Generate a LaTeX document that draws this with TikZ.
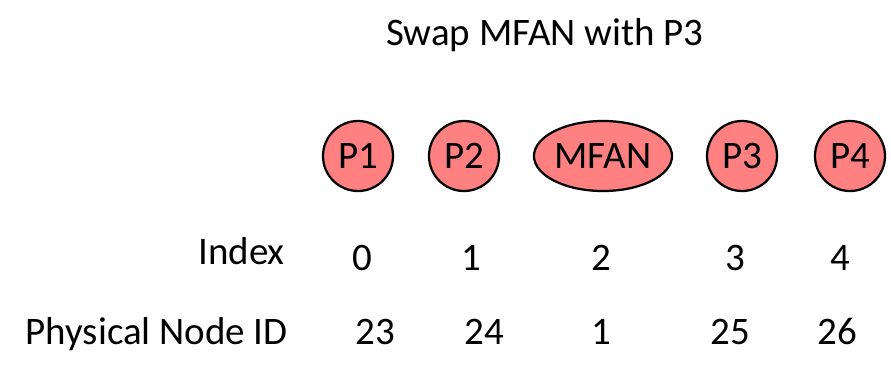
\documentclass[tikz,border=0pt]{standalone}
\usepackage{fontspec}
\setmainfont{Carlito}
\usepackage{tikz}
\usetikzlibrary{shapes.geometric}
\definecolor{nodepink}{RGB}{255,128,128}

\begin{document}
\begin{tikzpicture}[x=0.025cm,y=-0.025cm,
    font=\fontsize{27.7pt}{33pt}\selectfont,
    proc/.style={circle,draw,line width=1.6pt,fill=nodepink,minimum size=1.75cm,inner sep=0pt},
    mfan/.style={ellipse,draw,line width=1.6pt,fill=nodepink,minimum width=3.45cm,minimum height=1.75cm,inner sep=0pt},
    lbl/.style={anchor=base east,inner sep=0pt},
    num/.style={anchor=base,inner sep=0pt}]

      \useasboundingbox (0,0) rectangle (891,375);

      \node [anchor=base,inner sep=0pt] (title) at (545,45) {Swap MFAN with P3};

      \node [proc] (p1) at (358,156) {P1};
      \node [proc] (p2) at (464,156) {P2};
      \node [mfan] (mf) at (603,156) {MFAN};
      \node [proc] (p3) at (742,156) {P3};
      \node [proc] (p4) at (850,156) {P4};

      \node [lbl] (index) at (285,264) {Index};
      \node [num] (i0) at (362,270) {0};
      \node [num] (i1) at (471,270) {1};
      \node [num] (i2) at (601,270) {2};
      \node [num] (i3) at (735,270) {3};
      \node [num] (i4) at (840,270) {4};

      \node [lbl] (physid) at (288,344) {Physical Node ID};
      \node [num] (d0) at (375,344) {23};
      \node [num] (d1) at (484,344) {24};
      \node [num] (d2) at (601,344) {1};
      \node [num] (d3) at (730,344) {25};
      \node [num] (d4) at (837,344) {26};

    \end{tikzpicture}
\end{document}
